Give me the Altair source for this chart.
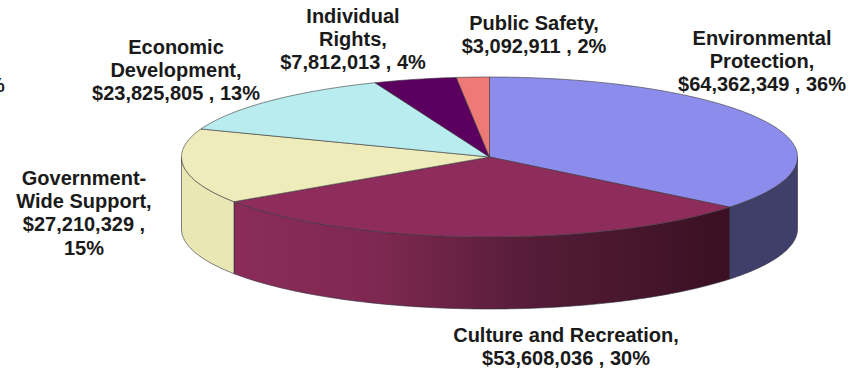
import math
import altair as alt
import pandas as pd

# Budget categories, clockwise from twelve o'clock
categories = ["Environmental Protection", "Culture and Recreation", "Government-Wide Support",
              "Economic Development", "Individual Rights", "Public Safety"]
amounts = [64362349, 53608036, 27210329, 23825805, 7812013, 3092911]
top_colors = ["#8c8cec", "#8e2c5c", "#eeecbb", "#b8ecee", "#5c0060", "#ee7a78"]

# Label text, one entry per line
label_lines = [
    ["Environmental", "Protection,", "$64,362,349  , 36%"],
    ["Culture and Recreation,", "$53,608,036  , 30%"],
    ["Government-", "Wide Support,", "$27,210,329  ,", "15%"],
    ["Economic", "Development,", "$23,825,805  , 13%"],
    ["Individual", "Rights,", "$7,812,013  , 4%"],
    ["Public Safety,", "$3,092,911  , 2%"],
]
label_anchor = [(762, 39), (566, 336), (84, 179), (176, 48), (353, 17), (534, 24)]
line_step = 23.2

W, H = 857, 369
CX, CY, RX, RY, DEPTH = 489.5, 157.0, 308.0, 80.0, 72.0

total = sum(amounts)
x_scale = alt.Scale(domain=[0, W], range=[0, W])
y_scale = alt.Scale(domain=[0, H], range=[0, H])
X = alt.X("x:Q", scale=x_scale, axis=None)
Y = alt.Y("y:Q", scale=y_scale, axis=None)


def rim(a_deg):
    a = math.radians(a_deg)
    return CX + RX * math.sin(a), CY - RY * math.cos(a)


def sweep(a0, a1, step=1.0):
    n = max(2, int(abs(a1 - a0) / step))
    return [a0 + (a1 - a0) * i / n for i in range(n + 1)]


# Cumulative angle boundaries of each slice
bounds = [0.0]
for v in amounts:
    bounds.append(bounds[-1] + 360.0 * v / total)

walls = []
wall_fill = {
    0: "#3f3f6a",
    1: alt.Gradient(
        gradient="linear", x1=0, x2=1, y1=0, y2=0,
        stops=[
            alt.GradientStop(offset=0, color="#8b2c5a"),
            alt.GradientStop(offset=0.3, color="#7d2850"),
            alt.GradientStop(offset=0.6, color="#551c38"),
            alt.GradientStop(offset=1, color="#3a1022"),
        ],
    ),
    2: "#e9e8b4",
}
for i in range(3):
    a0 = max(bounds[i], 90.0)
    a1 = min(bounds[i + 1], 270.0)
    rows = []
    for a in sweep(a0, a1):
        px, py = rim(a)
        rows.append({"x": px, "y": py, "y2": py + DEPTH})
    walls.append(
        alt.Chart(pd.DataFrame(rows))
        .mark_area(fill=wall_fill[i], stroke="#2c2c3c", strokeWidth=0.6, orient="vertical")
        .encode(x=X, y=Y, y2="y2:Q")
    )

tops = []
for i, color in enumerate(top_colors):
    pts = [(CX, CY)] + [rim(a) for a in sweep(bounds[i], bounds[i + 1])] + [(CX, CY)]
    frame = pd.DataFrame({"x": [p[0] for p in pts], "y": [p[1] for p in pts], "o": range(len(pts))})
    tops.append(
        alt.Chart(frame)
        .mark_line(fill=color, stroke="#3a3a3a", strokeWidth=0.6, interpolate="linear")
        .encode(x=X, y=Y, order="o:Q")
    )

rows = []
for lines, (ax, ay) in zip(label_lines, label_anchor):
    for j, line in enumerate(lines):
        rows.append({"x": ax, "y": ay + j * line_step, "t": line})
labels = (
    alt.Chart(pd.DataFrame(rows))
    .mark_text(font="Liberation Sans", fontWeight="bold", fontSize=20, color="#1a1a1a",
               align="center", baseline="middle")
    .encode(x=X, y=Y, text="t:N")
)

# Tail of a label running off the left edge
tail = (
    alt.Chart(pd.DataFrame({"x": [-13], "y": [86], "t": ["%"]}))
    .mark_text(font="Liberation Sans", fontWeight="bold", fontSize=20, color="#1a1a1a",
               align="left", baseline="middle", clip=True)
    .encode(x=X, y=Y, text="t:N")
)

chart = (
    alt.layer(*walls, *tops, labels, tail)
    .properties(width=W, height=H, padding=0, background="white", autosize=alt.AutoSizeParams(type="none"))
    .configure_view(stroke=None)
)
chart.save("out.html", embed_options={"renderer": "svg", "actions": False})
